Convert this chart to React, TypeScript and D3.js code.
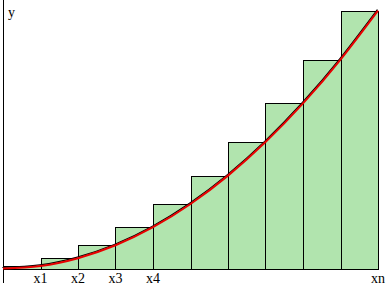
import React from "react";
import * as d3 from "d3";

const binEnds = [1, 2, 3, 4, 5, 6, 7, 8, 9, 10];
const barValues = [1, 4, 9, 16, 25, 36, 49, 64, 81, 100];
const curveX = [0, 1, 2, 3, 4, 5, 6, 7, 8, 9, 10];
const curveY = [0, 1, 4, 9, 16, 25, 36, 49, 64, 81, 100];
const tickPos = [1, 2, 3, 4, 10];
const tickLabels = ["x1", "x2", "x3", "x4", "xn"];

const W = 388;
const H = 288;

export default function App() {
  const x = d3.scaleLinear().domain([0, 10]).range([3, 378]);
  const y = d3.scaleLinear().domain([0, 100]).range([268.5, 10.5]);
  const pts: [number, number][] = curveX.map((v, i) => [x(v), y(curveY[i])]);
  const line = d3.line().curve(d3.curveNatural);
  const d = line(pts) || "";
  const font = "'Liberation Serif', 'DejaVu Serif', serif";
  return (
    <div style={{ position: "absolute", left: 0, top: 0 }}>
      <svg width={W} height={H} style={{ display: "block", background: "#fff" }}>
        {binEnds.map((e, i) => {
          const x0 = Math.round(x(e - 1)) + 0.5;
          const x1 = Math.round(x(e)) + 0.5;
          const yt = Math.round(y(barValues[i])) + 0.5;
          const yb = Math.round(y(0)) + 0.5;
          return (
            <rect
              key={i}
              x={x0}
              y={yt}
              width={x1 - x0}
              height={yb - yt}
              fill="#b1e4ae"
              stroke="#000"
              strokeWidth={1}
              shapeRendering="crispEdges"
            />
          );
        })}
        <line x1={3.5} x2={3.5} y1={0} y2={283} stroke="#000" strokeWidth={1} shapeRendering="crispEdges" />
        <path d={d} fill="none" stroke="#000" strokeWidth={1.2} transform="translate(-0.6,-1)" />
        <path d={d} fill="none" stroke="#e80000" strokeWidth={2} />
        <text x={8} y={17} fontFamily={font} fontSize={14} fill="#000">y</text>
        {tickPos.map((t, i) => (
          <text
            key={i}
            x={x(t)}
            y={283}
            textAnchor="middle"
            fontFamily={font}
            fontSize={14}
            fill="#000"
          >
            {tickLabels[i]}
          </text>
        ))}
      </svg>
    </div>
  );
}
